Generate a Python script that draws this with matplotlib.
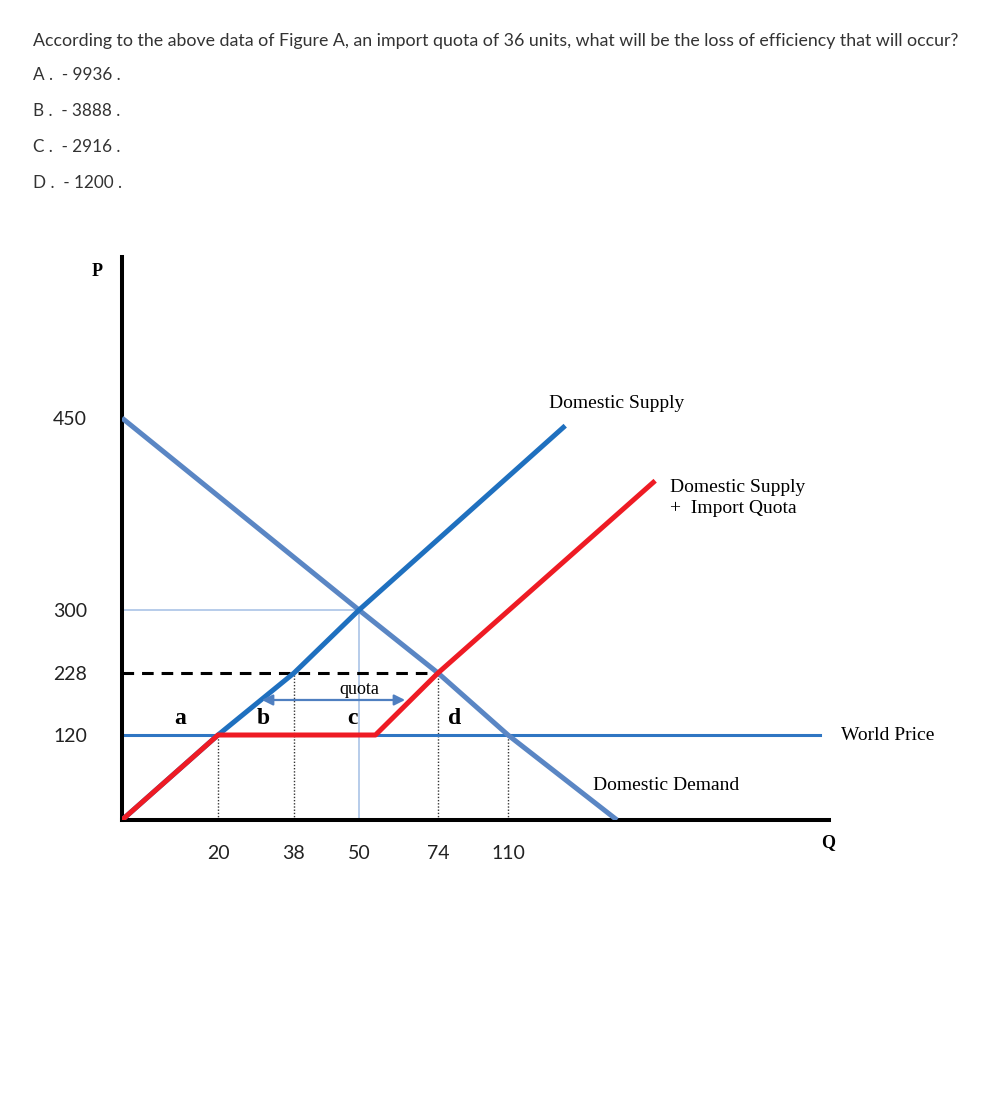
import numpy as np
import matplotlib
matplotlib.use("Agg")
import matplotlib.pyplot as plt

# question text
question = "According to the above data of Figure A, an import quota of 36 units, what will be the loss of efficiency that will occur?"
options = ["A .  - 9936 .", "B .  - 3888 .", "C .  - 2916 .", "D .  - 1200 ."]

# chart data
world_price = 120
q_ticks = [20, 38, 50, 74, 110]
p_ticks = [120, 228, 300, 450]

supply_q = [0, 20, 38, 50, 131]
supply_p = [0, 120, 228, 300, 444]

demand_q = [0, 50, 74, 110, 150]
demand_p = [450, 300, 228, 120, 0]

quota_q = [0, 20, 55, 74, 164]
quota_p = [0, 120, 120, 228, 401]

# the drawing is schematic: values are not evenly spaced on the axes,
# so use a piecewise linear scale (value -> drawn position)
q_knots = [0, 20, 38, 50, 74, 110, 150]
q_pos = [0, 96, 172, 237, 316, 386, 495]
p_knots = [0, 120, 228, 300, 450]
p_pos = [0, 85, 147, 210, 402]


def piecewise(vals, pos):
    vals = np.asarray(vals, float)
    pos = np.asarray(pos, float)
    s_lo = (pos[1] - pos[0]) / (vals[1] - vals[0])
    s_hi = (pos[-1] - pos[-2]) / (vals[-1] - vals[-2])

    def fwd(v):
        v = np.asarray(v, float)
        out = np.interp(v, vals, pos)
        out = np.where(v > vals[-1], pos[-1] + (v - vals[-1]) * s_hi, out)
        out = np.where(v < vals[0], pos[0] + (v - vals[0]) * s_lo, out)
        return out

    def inv(u):
        u = np.asarray(u, float)
        out = np.interp(u, pos, vals)
        out = np.where(u > pos[-1], vals[-1] + (u - pos[-1]) / s_hi, out)
        out = np.where(u < pos[0], vals[0] + (u - pos[0]) / s_lo, out)
        return out

    return fwd, inv


W, H = 983, 1112
fig = plt.figure(figsize=(W / 100, H / 100), dpi=100)


def px(x, y):
    return x / W, 1 - y / H


# question block
fig.text(*px(33, 41), question, fontsize=12.8, family="Lato", color="#333333", va="center")
for i, opt in enumerate(options):
    fig.text(*px(33, 75 + i * 36), opt, fontsize=12.3, family="Lato", color="#333333", va="center")

# axes: origin at (122, 820), ends at x=829 and y=257
ax = fig.add_axes([122 / W, 1 - 820 / H, 707 / W, 563 / H])
ax.set_xscale("function", functions=piecewise(q_knots, q_pos))
ax.set_yscale("function", functions=piecewise(p_knots, p_pos))
ax.set_xlim(0, 227.8)
ax.set_ylim(0, 575.8)

for s in ["top", "right"]:
    ax.spines[s].set_visible(False)
for s in ["left", "bottom"]:
    ax.spines[s].set_linewidth(2.9)
    ax.spines[s].set_capstyle("projecting")

ax.set_xticks(q_ticks)
ax.set_xticklabels([str(v) for v in q_ticks])
ax.set_yticks(p_ticks)
ax.set_yticklabels([str(v) for v in p_ticks])
ax.minorticks_off()
ax.tick_params(length=0, labelsize=14, colors="#222222")
ax.tick_params(axis="x", pad=18)
ax.tick_params(axis="y", pad=25)
for lab in ax.get_xticklabels() + ax.get_yticklabels():
    lab.set_family("Lato")

# guide lines
ax.plot([0, 50], [300, 300], color="#a3bfe4", lw=1.1, zorder=1)
ax.plot([50, 50], [0, 300], color="#a3bfe4", lw=1.1, zorder=1)
ax.plot([0, 74], [228, 228], color="black", lw=2.2, ls=(0, (3.8, 2.6)), zorder=1)
for q, p in [(20, 120), (38, 228), (74, 228), (110, 120)]:
    ax.plot([q, q], [0, p], color="#333333", lw=1, ls=(0, (1, 1.3)), zorder=1)

# curves
ax.plot([0, 224.5], [world_price, world_price], color="#2f76c3", lw=2.2, zorder=2)
ax.plot(demand_q, demand_p, color="#5a86c4", lw=3.6, zorder=3, solid_capstyle="butt")
ax.plot(supply_q, supply_p, color="#1f70bf", lw=3.6, zorder=4, solid_capstyle="butt")
ax.plot(quota_q, quota_p, color="#ee1b24", lw=3.6, zorder=5, solid_capstyle="butt")

# quota arrow
ax.annotate("", xy=(64, 181), xytext=(30.4, 181),
            arrowprops=dict(arrowstyle="<|-|>", color="#4f7fc0", lw=1.6,
                            mutation_scale=16, shrinkA=0, shrinkB=0), zorder=6)
ax.text(50, 200, "quota", family="Liberation Serif", fontsize=13, ha="center", va="center")

serif = "Liberation Serif"
for lab, q in [("a", 12.1), ("b", 30.7), ("c", 48.7), ("d", 82.7)]:
    ax.text(q, 148, lab, family=serif, fontsize=17, fontweight="bold", ha="center", va="center")

# curve labels
ax.annotate("Domestic Supply", xy=(supply_q[-1], supply_p[-1]), xytext=(-12, 10),
            textcoords="offset points", family=serif, fontsize=14, va="bottom", ha="left")
ax.text(quota_q[-1], quota_p[-1], "Domestic Supply", family=serif, fontsize=14,
        va="center", ha="left", transform=ax.transData + matplotlib.transforms.ScaledTranslation(11 / 72, -5 / 72, fig.dpi_scale_trans))
ax.text(quota_q[-1], quota_p[-1], "+  Import Quota", family=serif, fontsize=14,
        va="center", ha="left", transform=ax.transData + matplotlib.transforms.ScaledTranslation(11 / 72, -20 / 72, fig.dpi_scale_trans))
ax.annotate("Domestic Demand", xy=(demand_q[-1], demand_p[-1]), xytext=(-17, 25),
            textcoords="offset points", family=serif, fontsize=14, va="center", ha="left")
ax.annotate("World Price", xy=(224.5, world_price), xytext=(15, 0),
            textcoords="offset points", family=serif, fontsize=14, va="center", ha="left")

fig.text(*px(97, 271), "P", family=serif, fontsize=13, fontweight="bold", ha="center", va="center")
fig.text(*px(828, 843), "Q", family=serif, fontsize=13, fontweight="bold", ha="center", va="center")

fig.savefig("out.png", dpi=100)
